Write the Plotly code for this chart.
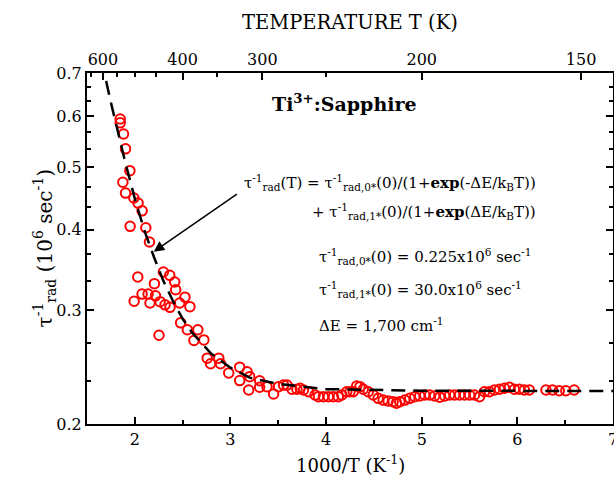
import plotly.graph_objects as go
import math

# ---- data ----
inv_T = [1.847, 1.847, 1.882, 1.903, 1.948, 1.875, 1.903, 1.990, 2.034, 2.076,
         1.951, 2.115, 2.153, 2.031, 2.299, 2.365, 2.417, 2.205, 2.427, 2.076,
         2.139, 2.216, 1.993, 2.159, 2.264, 2.316, 2.368, 2.469, 2.524, 2.576,
         2.479, 2.549, 2.659, 2.618, 2.722, 2.253, 2.757, 2.878, 2.792, 2.896,
         2.982, 3.097, 3.097, 3.174, 3.201, 3.191, 3.305, 3.305, 3.382, 3.451,
         3.503, 3.555, 3.591, 3.643, 3.695, 3.729, 3.764, 3.816, 3.885, 3.920,
         3.972, 4.024, 4.076, 4.128, 4.164, 4.216, 4.250, 4.284, 4.320, 4.354,
         4.389, 4.441, 4.493, 4.545, 4.597, 4.649, 4.701, 4.736, 4.771, 4.823,
         4.875, 4.927, 4.979, 5.031, 5.083, 5.135, 5.188, 5.240, 5.292, 5.344,
         5.396, 5.448, 5.500, 5.552, 5.604, 5.656, 5.708, 5.760, 5.813, 5.865,
         5.917, 5.969, 6.021, 6.073, 6.125, 6.299, 6.368, 6.438, 6.507, 6.594]
rate = [0.594, 0.586, 0.563, 0.534, 0.494, 0.474, 0.456, 0.448, 0.440, 0.428,
        0.405, 0.403, 0.383, 0.338, 0.344, 0.340, 0.332, 0.330, 0.323, 0.318,
        0.318, 0.316, 0.310, 0.308, 0.3095, 0.306, 0.3033, 0.308, 0.3145, 0.304,
        0.287, 0.280, 0.280, 0.2694, 0.270, 0.2745, 0.253, 0.253, 0.248, 0.248,
        0.240, 0.245, 0.2335, 0.241, 0.2368, 0.2258, 0.2334, 0.2280, 0.2285, 0.2226,
        0.2285, 0.2298, 0.2298, 0.2264, 0.2264, 0.2272, 0.2258, 0.2244, 0.2218, 0.2205,
        0.2205, 0.2205, 0.2205, 0.2205, 0.2218, 0.2244, 0.2244, 0.2244, 0.2290, 0.2285,
        0.2264, 0.2244, 0.2218, 0.2192, 0.2178, 0.2171, 0.2166, 0.2154, 0.2166, 0.2178,
        0.2192, 0.2205, 0.2210, 0.2218, 0.2218, 0.2210, 0.2200, 0.2210, 0.2218, 0.2218,
        0.2218, 0.2218, 0.2218, 0.2218, 0.2205, 0.2244, 0.2244, 0.2258, 0.2264, 0.2272,
        0.2280, 0.2264, 0.2264, 0.2258, 0.2258, 0.2258, 0.2258, 0.2252, 0.2252, 0.2258]

fit_x = [1.66, 1.70, 1.75, 1.80, 1.90, 2.00, 2.10, 2.20, 2.30, 2.40, 2.50,
         2.60, 2.80, 3.00, 3.20, 3.50, 4.00, 5.00, 6.00, 7.00]
fit_y = [0.735, 0.680, 0.630, 0.585, 0.509, 0.447, 0.399, 0.363, 0.333, 0.310, 0.291,
         0.277, 0.257, 0.2445, 0.236, 0.2307, 0.2265, 0.2252, 0.225, 0.225]

x_major = [2, 3, 4, 5, 6, 7]
x_minor = [2.5, 3.5, 4.5, 5.5, 6.5]
y_major = [0.2, 0.3, 0.4, 0.5, 0.6, 0.7]
y_labels = ["0.2", "0.3", "0.4", "0.5", "0.6", "0.7"]
y_minor = [0.2333, 0.2667, 0.3333, 0.3667, 0.4333, 0.4667, 0.5333, 0.5667, 0.6333, 0.6667]
T_major = [600, 400, 300, 200, 150]
T_minor = [650, 550, 500, 450, 350, 250]

FONT = "DejaVu Serif"

fig = go.Figure()
fig.add_trace(go.Scatter(
    x=inv_T, y=rate, mode="markers",
    marker=dict(symbol="circle-open", size=9.5, color="#ff0000",
                line=dict(width=2, color="#ff0000")),
    showlegend=False, hoverinfo="skip"))
fig.add_trace(go.Scatter(
    x=fit_x, y=fit_y, mode="lines",
    line=dict(color="black", width=2.5, dash="14px,8px"),
    showlegend=False, hoverinfo="skip"))
# carrier trace so the top temperature axis is drawn
fig.add_trace(go.Scatter(
    x=fit_x, y=fit_y, xaxis="x2", mode="lines",
    line=dict(color="rgba(0,0,0,0)", width=0),
    showlegend=False, hoverinfo="skip"))

axis_common = dict(showline=True, linewidth=2, linecolor="black",
                   showgrid=False, zeroline=False, ticks="inside",
                   tickcolor="black", tickwidth=1.5, ticklen=7, automargin=False,
                   tickfont=dict(family=FONT, size=16, color="black"))

fig.update_layout(
    width=614, height=483,
    margin=dict(l=87, r=1, t=73, b=59),
    paper_bgcolor="white", plot_bgcolor="white",
    font=dict(family=FONT, color="black"),
    xaxis=dict(range=[1.5, 7.0], tickmode="array", tickvals=x_major,
               ticktext=[str(v) for v in x_major], mirror=True,
               ticklabeloverflow="allow",
               minor=dict(tickmode="array", tickvals=x_minor, ticks="inside",
                          ticklen=4, tickwidth=1.5, tickcolor="black"),
               **axis_common),
    xaxis2=dict(range=[1.5, 7.0], overlaying="x", side="top", anchor="y",
                tickmode="array", tickvals=[1000.0 / t for t in T_major],
                ticktext=[str(t) for t in T_major], ticklabeloverflow="allow",
                minor=dict(tickmode="array", tickvals=[1000.0 / t for t in T_minor],
                           ticks="inside", ticklen=4, tickwidth=1.5, tickcolor="black"),
                **axis_common),
    yaxis=dict(type="log", range=[math.log10(0.2), math.log10(0.7)],
               tickmode="array", tickvals=y_major, ticktext=y_labels,
               mirror="ticks",
               minor=dict(tickmode="array", tickvals=y_minor, ticks="inside",
                          ticklen=4, tickwidth=1.5, tickcolor="black"),
               **axis_common),
)

# axis titles (placed as paper annotations for exact positioning)
fig.add_annotation(xref="paper", yref="paper", x=0.5, y=-0.115,
                   text="1000/T (K<sup>-1</sup>)", showarrow=False,
                   font=dict(family=FONT, size=18, color="black"),
                   xanchor="center", yanchor="middle")
fig.add_annotation(xref="paper", yref="paper", x=0.5, y=1.143,
                   text="TEMPERATURE T (K)", showarrow=False,
                   font=dict(family=FONT, size=19.5, color="black"),
                   xanchor="center", yanchor="middle")
fig.add_annotation(xref="paper", yref="paper", x=-0.08, y=0.5, textangle=-90,
                   text="τ<sup>-1</sup><sub>rad</sub> (10<sup>6</sup> sec<sup>-1</sup>)",
                   showarrow=False, font=dict(family=FONT, size=20, color="black"),
                   xanchor="center", yanchor="middle")

ann_font = dict(family=FONT, size=15, color="black")
fig.add_annotation(xref="paper", yref="paper", x=0.489, y=0.915,
                   text="<b>Ti<sup>3+</sup>:Sapphire</b>", showarrow=False,
                   font=dict(family=FONT, size=19, color="black"),
                   xanchor="center", yanchor="middle")
fig.add_annotation(xref="paper", yref="paper", x=0.857, y=0.689,
                   text="τ<sup>-1</sup><sub>rad</sub>(T) = τ<sup>-1</sup><sub>rad,0*</sub>(0)/(1+<b>exp</b>(-ΔE/k<sub>B</sub>T))",
                   showarrow=False, font=ann_font, xanchor="right", yanchor="middle")
fig.add_annotation(xref="paper", yref="paper", x=0.857, y=0.604,
                   text="+ τ<sup>-1</sup><sub>rad,1*</sub>(0)/(1+<b>exp</b>(ΔE/k<sub>B</sub>T))",
                   showarrow=False, font=ann_font, xanchor="right", yanchor="middle")
fig.add_annotation(xref="paper", yref="paper", x=0.437, y=0.476,
                   text="τ<sup>-1</sup><sub>rad,0*</sub>(0) = 0.225x10<sup>6</sup> sec<sup>-1</sup>",
                   showarrow=False, font=ann_font, xanchor="left", yanchor="middle")
fig.add_annotation(xref="paper", yref="paper", x=0.437, y=0.382,
                   text="τ<sup>-1</sup><sub>rad,1*</sub>(0) = 30.0x10<sup>6</sup> sec<sup>-1</sup>",
                   showarrow=False, font=ann_font, xanchor="left", yanchor="middle")
fig.add_annotation(xref="paper", yref="paper", x=0.437, y=0.282,
                   text="ΔE = 1,700 cm<sup>-1</sup>",
                   showarrow=False, font=ann_font, xanchor="left", yanchor="middle")
# arrow pointing to the fit curve
fig.add_annotation(x=2.198, y=math.log10(0.370), xref="x", yref="y",
                   ax=3.083, ay=math.log10(0.456), axref="x", ayref="y",
                   text="", showarrow=True, arrowhead=2, arrowsize=1.4,
                   arrowwidth=1.5, arrowcolor="black")

fig.write_html("out.html", config={"displayModeBar": False},
               post_script="document.body.style.margin='0px';document.body.style.overflow='hidden';")
